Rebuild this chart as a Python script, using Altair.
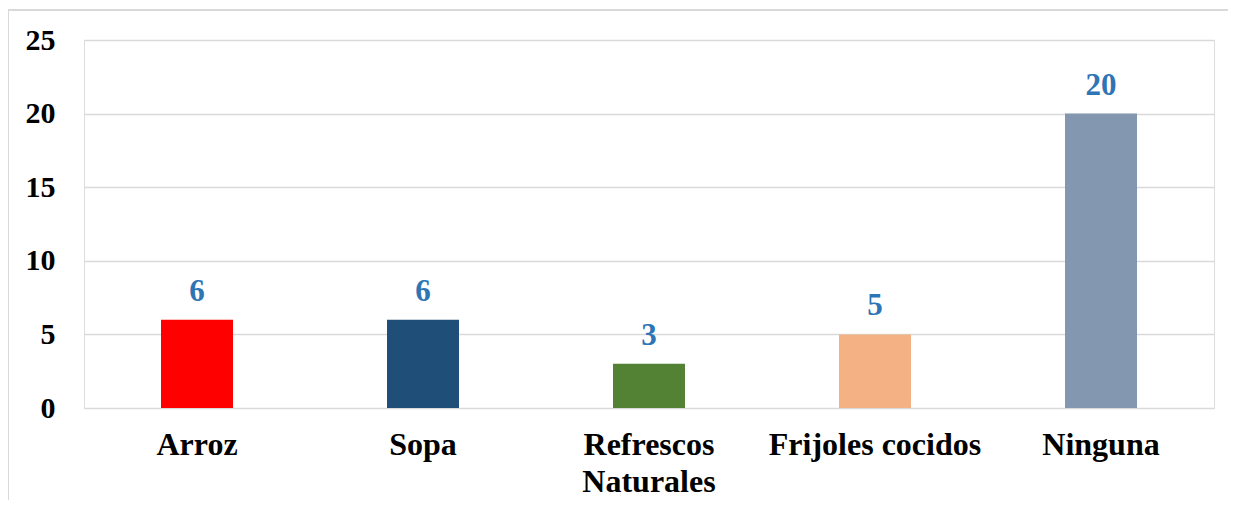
import altair as alt
import pandas as pd

categories = ["Arroz", "Sopa", "Refrescos Naturales", "Frijoles cocidos", "Ninguna"]
values = [6, 6, 3, 5, 20]
colors = ["#FF0000", "#1F4E79", "#548235", "#F4B183", "#8497B0"]
y_ticks = [0, 5, 10, 15, 20, 25]

df = pd.DataFrame({"cat": categories, "val": values, "color": colors})

FONT = "Liberation Serif"

x_enc = alt.X("cat:N", sort=categories,
              scale=alt.Scale(paddingInner=0, paddingOuter=0),
              axis=alt.Axis(title=None, labelAngle=0, domain=False, ticks=False,
                            labelFont=FONT, labelFontSize=32, labelFontWeight="bold",
                            labelColor="#000000", labelPadding=21, labelLineHeight=37,
                            labelLimit=0,
                            labelExpr="datum.label == 'Refrescos Naturales' ? ['Refrescos', 'Naturales'] : datum.label"))
y_enc = alt.Y("val:Q", scale=alt.Scale(domain=[0, 25], nice=False),
              axis=alt.Axis(title=None, values=y_ticks, domain=False, ticks=False,
                            gridColor="#D9D9D9", gridWidth=1.5,
                            labelFont=FONT, labelFontSize=30, labelFontWeight="bold",
                            labelColor="#000000", labelPadding=29))

bars = alt.Chart(df).mark_bar(size=72).encode(
    x=x_enc, y=y_enc,
    color=alt.Color("color:N", scale=None),
)

labels = alt.Chart(df).mark_text(
    font=FONT, fontSize=31, fontWeight="bold", color="#2E75B6",
    baseline="alphabetic", dy=-19
).encode(x=alt.X("cat:N", sort=categories), y="val:Q", text="val:Q")

border_left = alt.Chart(df).mark_rule(color="#D9D9D9", strokeWidth=2).encode(
    x=alt.value(-76), y=alt.value(-30), y2=alt.value(500))
border_top = alt.Chart(df).mark_rule(color="#D9D9D9", strokeWidth=2).encode(
    x=alt.value(-76), x2=alt.value(1200), y=alt.value(-30))

chart = alt.layer(border_left, border_top, bars, labels).properties(
    width=1130, height=368,
    autosize=alt.AutoSizeParams(type="none"),
    padding={"left": 76, "top": 32, "right": 14, "bottom": 92},
).configure_view(stroke=None).configure(background="white")

chart.save("out.html", embed_options={"renderer": "svg", "actions": False})
